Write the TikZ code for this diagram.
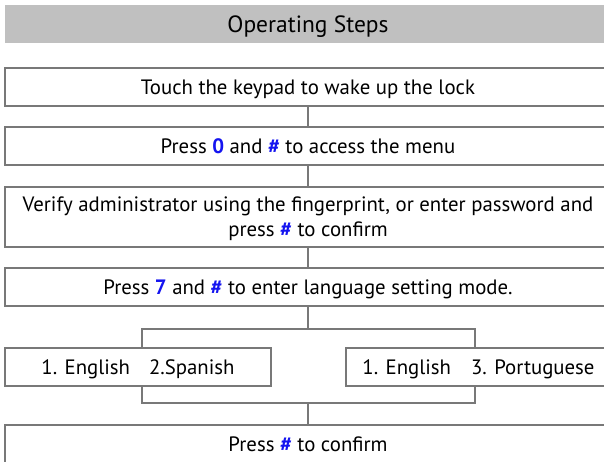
\documentclass[tikz,border=0pt]{standalone}
\usepackage{fontspec}
\setmainfont{PT Sans}
\usetikzlibrary{positioning}
\definecolor{linegray}{RGB}{120,120,120}
\definecolor{headgray}{RGB}{192,192,192}
\definecolor{keyblue}{RGB}{20,20,240}
\newcommand{\key}[1]{\textcolor{keyblue}{\textbf{#1}}}
\tikzset{
  stepbox/.style={draw=linegray, line width=1.1pt, fill=white, minimum height=38pt, inner sep=0pt, text depth=0pt, font=\fontsize{20.8}{25}\selectfont, align=center},
  headbox/.style={fill=headgray, minimum height=38pt, inner sep=0pt, text depth=0pt, font=\fontsize{23.5}{26}\selectfont},
  link/.style={draw=linegray, line width=1.1pt}
}
\begin{document}
\begin{tikzpicture}[x=1pt,y=-1pt]
\useasboundingbox (0,0) rectangle (604,461);
\clip (0,0) rectangle (604,461);
\node[headbox, minimum width=606pt] (hd) at (308,24) {Operating Steps};
\node[stepbox, minimum width=606pt] (b1) at (308,87) {Touch the keypad to wake up the lock};
\node[stepbox, minimum width=606pt] (b2) at (308,146) {Press \key{0} and \key{\#} to access the menu};
\node[stepbox, minimum width=606pt, minimum height=60pt] (b3) at (308,217) {Verify administrator using the fingerprint, or enter password and\\press \key{\#} to confirm};
\node[stepbox, minimum width=606pt] (b4) at (308,287) {Press \key{7} and \key{\#} to enter language setting mode.};
\node[stepbox, minimum width=266pt] (la) at (138,367) {1. English\hspace{19pt}2.Spanish};
\node[stepbox, minimum width=265pt] (ra) at (478.5,367) {1. English\hspace{20pt}3. Portuguese};
\node[stepbox, minimum width=606pt] (b5) at (308,444) {Press \key{\#} to confirm};
\coordinate (sl) at (142,329);
\coordinate (sr) at (475,329);
\coordinate (bl) at (142,403);
\coordinate (br) at (475,403);
\draw[link] (b1.south) -- (b2.north);
\draw[link] (b2.south) -- (b3.north);
\draw[link] (b3.south) -- (b4.north);
\draw[link] (b4.south) -- (b4.south |- sl);
\draw[link] (la.north -| sl) -- (sl) -- (sr) -- (ra.north -| sr);
\draw[link] (la.south -| bl) -- (bl) -- (br) -- (ra.south -| br);
\draw[link] (b5.north |- bl) -- (b5.north);
\end{tikzpicture}
\end{document}
